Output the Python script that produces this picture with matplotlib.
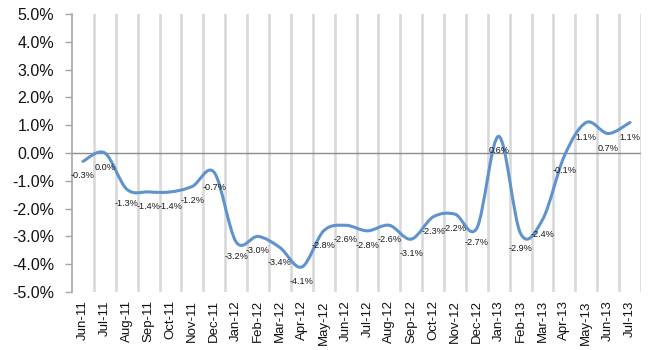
import matplotlib
matplotlib.use("Agg")
import matplotlib.pyplot as plt
from matplotlib.path import Path
from matplotlib.patches import PathPatch
import numpy as np

months = ["Jun-11", "Jul-11", "Aug-11", "Sep-11", "Oct-11", "Nov-11", "Dec-11",
          "Jan-12", "Feb-12", "Mar-12", "Apr-12", "May-12", "Jun-12", "Jul-12",
          "Aug-12", "Sep-12", "Oct-12", "Nov-12", "Dec-12", "Jan-13", "Feb-13",
          "Mar-13", "Apr-13", "May-13", "Jun-13", "Jul-13"]
values = [-0.3, 0.0, -1.3, -1.4, -1.4, -1.2, -0.7, -3.2, -3.0, -3.4, -4.1, -2.8,
          -2.6, -2.8, -2.6, -3.1, -2.3, -2.2, -2.7, 0.6, -2.9, -2.4, -0.1, 1.1,
          0.7, 1.1]
yticks = [-5, -4, -3, -2, -1, 0, 1, 2, 3, 4, 5]

plt.rcParams['font.family'] = ['Liberation Sans', 'DejaVu Sans']

fig = plt.figure(figsize=(6.5, 3.5), dpi=100)
ax = fig.add_axes([72/650, 1-292/350, (641-72)/650, (292-14)/350])

n = len(values)
x = np.arange(n, dtype=float)
y = np.array(values, dtype=float)

# smoothed (Catmull-Rom style Bezier) line through data points
verts = [(x[0], y[0])]
codes = [Path.MOVETO]
for i in range(n - 1):
    p0 = np.array([x[max(i-1, 0)], y[max(i-1, 0)]])
    p1 = np.array([x[i], y[i]])
    p2 = np.array([x[i+1], y[i+1]])
    p3 = np.array([x[min(i+2, n-1)], y[min(i+2, n-1)]])
    c1 = p1 + (p2 - p0) / 6.0
    c2 = p2 - (p3 - p1) / 6.0
    verts += [tuple(c1), tuple(c2), tuple(p2)]
    codes += [Path.CURVE4] * 3
patch = PathPatch(Path(verts, codes), facecolor='none', edgecolor='#5F93CE',
                  linewidth=2.2, zorder=4, capstyle='round', joinstyle='round')
ax.add_patch(patch)

ax.set_xlim(-0.5, n - 0.5)
ax.set_ylim(-5, 5)

# vertical gridlines between categories
for k in range(n):
    ax.axvline(k + 0.5, color='#D9D9D9', linewidth=1.9, zorder=1)
ax.axhline(0, color='#8C8C8C', linewidth=1.0, zorder=2)

ax.set_yticks(yticks)
ax.set_yticklabels([f"{v:.1f}%" for v in yticks], fontsize=11.5, color='#111111')
ax.set_xticks(x)
ax.set_xticklabels(months, rotation=90, fontsize=9.5, color='#111111')
ax.tick_params(axis='x', length=0, pad=6)
ax.tick_params(axis='y', length=5, width=1, color='#A6A6A6', pad=8)

for s in ['top', 'right', 'bottom']:
    ax.spines[s].set_visible(False)
ax.spines['left'].set_color('#A6A6A6')
ax.spines['left'].set_linewidth(1.2)

for xi, yi in zip(x, y):
    ax.annotate(f"{yi:.1f}%", (xi, yi), xytext=(0, -10.5), textcoords='offset points',
                ha='center', va='center', fontsize=6.6, color='#1a1a1a', zorder=5)

fig.savefig("out.png", dpi=100)
